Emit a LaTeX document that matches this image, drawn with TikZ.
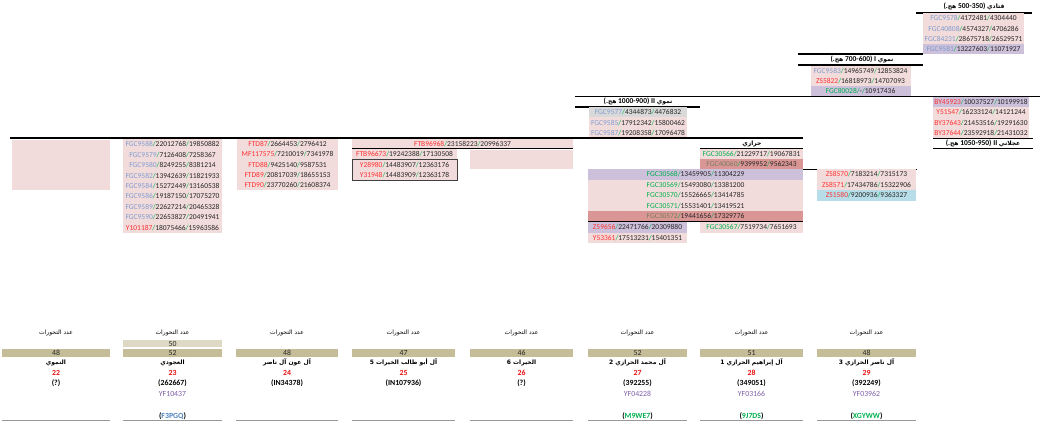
\documentclass[tikz,border=0pt]{standalone}
\usepackage{fontspec}
\setmainfont{Carlito}
\newfontfamily\arfont[Script=Arabic]{DejaVu Sans}
\TeXXeTstate=1
\usetikzlibrary{positioning}

\definecolor{pinkbg}{HTML}{F2DCDB}
\definecolor{purplebg}{HTML}{CCC0DA}
\definecolor{rosybg}{HTML}{DA9694}
\definecolor{bluebg}{HTML}{B7DEE8}
\definecolor{greybg}{HTML}{D9D9D9}
\definecolor{tanbg}{HTML}{C4BD97}
\definecolor{tanlt}{HTML}{DDD9C4}
\definecolor{snpb}{HTML}{7F9BD0}
\definecolor{snpr}{HTML}{FF3030}
\definecolor{snpg}{HTML}{00B050}
\definecolor{snpo}{HTML}{767D5E}
\definecolor{numtxt}{HTML}{262626}
\definecolor{yfpurple}{HTML}{7F5FA8}
\definecolor{codeblue}{HTML}{4F81BD}
\definecolor{redbold}{HTML}{E81010}

\newcommand{\arw}[1]{{\arfont\fontsize{6}{7}\selectfont #1}}
\newcommand{\arr}[1]{\arw{\beginR #1\endR}}
% era title: Arabic name, Latin part, years
\newcommand{\era}[3]{\beginR\arw{#1} #2\beginL#3)\endL{} \arw{هج}\beginL(.\endL\endR}
\newcommand{\gsl}{\textcolor{snpg}{/}}
\newcommand{\snp}[4]{\textcolor{#1}{#2}\gsl#3\gsl#4}
\newcommand{\rowfont}{\fontsize{7.5}{8}\selectfont}
\newcommand{\botfont}{\fontsize{7.8}{9}\selectfont}

\begin{document}
\begin{tikzpicture}[x=1pt,y=-1pt,
  row/.style={minimum width=#1, minimum height=10.5pt, inner sep=0pt,
    font=\rowfont, text=numtxt},
  row/.default=101pt,
  tline/.style={line width=1.1pt},
  title/.style={inner sep=0pt, font=\rowfont\bfseries},
  hdr/.style={inner sep=0pt, font=\botfont},
  cntbox/.style={fill=tanbg, minimum height=8pt, inner sep=0pt,
    font=\botfont, text=numtxt},
  btxt/.style={inner sep=0pt, font=\botfont\bfseries},
  base/.style={line width=0.8pt, draw=gray!80}]

\useasboundingbox (0,0) rectangle (1044,426);

% Qatadi
\node[title] (qt) at (974,6) {\era{قتادي}{}{500-350}};
\draw[tline] (916,13) -- (1032,13);
\node[row, fill=pinkbg] (q1) at (973.5,18.3) {\snp{snpb}{FGC9578}{4172481}{4304440}};
\node[row, fill=pinkbg] (q2) at (973.5,28.6) {\snp{snpb}{FGC40808}{4574327}{4706286}};
\node[row, fill=pinkbg] (q3) at (973.5,38.9) {\snp{snpb}{FGC84231}{28675718}{26529571}};
\node[row, fill=purplebg] (q4) at (973.5,49.2) {\snp{snpb}{FGC9581}{13227603}{11071927}};

% Nmowi I
\draw[tline] (798,54) -- (923,54);
\node[title] (nt) at (862,59.5) {\era{نموي}{I }{700-600}};
\draw[tline] (798,65) -- (923,65);
\node[row=100pt, fill=pinkbg] (n1) at (860.5,70.8) {\snp{snpb}{FGC9583}{14965749}{12853824}};
\node[row=100pt, fill=pinkbg] (n2) at (860.5,81.1) {\snp{snpr}{ZS5822}{16818973}{14707093}};
\node[row=100pt, fill=purplebg] (n3) at (860.5,91.4) {\snp{snpg}{FGC80028}{-}{10917436}};

\draw[tline] (575,96.5) -- (1040,96.5);

% Ajlani II
\node[row=96pt, fill=purplebg] (a1) at (981,102) {\snp{snpr}{BY45923}{10037527}{10199918}};
\node[row=96pt, fill=pinkbg] (a2) at (981,112.3) {\snp{snpr}{Y51547}{16233124}{14121244}};
\node[row=96pt, fill=pinkbg] (a3) at (981,122.6) {\snp{snpr}{BY37643}{21453516}{19291630}};
\node[row=96pt, fill=pinkbg] (a4) at (981,132.9) {\snp{snpr}{BY37644}{23592918}{21431032}};
\draw[tline] (933,138.3) -- (1033,138.3);
\node[title] (at) at (983,143.5) {\era{عجلاني}{II }{1050-950}};
\draw[tline] (933,148.5) -- (1033,148.5);

% Nmowi II
\node[title] (mt) at (638,101.8) {\era{نموي}{II }{1000-900}};
\draw[tline] (575,107) -- (700,107);
\node[row=98pt, fill=greybg] (m1) at (638,112.3) {\snp{snpb}{FGC9577}{4344873}{4476832}};
\node[row=98pt, fill=pinkbg] (m2) at (638,122.6) {\snp{snpb}{FGC9585}{17912342}{15800462}};
\node[row=98pt, fill=pinkbg] (m3) at (638,132.9) {\snp{snpb}{FGC9587}{19208358}{17096478}};

\draw[tline] (10,138) -- (803,138);

% Harazi
\node[title] (ht) at (752,143.5) {\arr{حرازي}};
\draw[tline] (700,148.5) -- (803,148.5);
\node[row=103pt, fill=pinkbg] (h1) at (751.5,154) {\snp{snpg}{FGC30566}{21229717}{19067831}};
\node[row=103pt, fill=rosybg] (h2) at (751.5,164.3) {\snp{snpo}{FGC40060}{9399952}{9562343}};
\draw[tline] (588,169.3) -- (917,169.3);
\node[row=215pt, fill=purplebg] (w1) at (695.5,174.5) {\snp{snpg}{FGC30568}{13459905}{11304229}};
\node[row=215pt, fill=pinkbg] (w2) at (695.5,185) {\snp{snpg}{FGC30569}{15493080}{13381200}};
\node[row=215pt, fill=pinkbg] (w3) at (695.5,195.5) {\snp{snpg}{FGC30570}{15526665}{13414785}};
\node[row=215pt, fill=pinkbg] (w4) at (695.5,206) {\snp{snpg}{FGC30571}{15531401}{13419521}};
\node[row=215pt, fill=rosybg] (w5) at (695.5,216.5) {\snp{snpo}{FGC30572}{19441656}{17329776}};
\draw[tline] (588,221.8) -- (803,221.8);
\node[row=99pt, fill=purplebg] (z1) at (637.5,227.5) {\snp{snpr}{Z59656}{22471766}{20309880}};
\node[row=99pt, fill=pinkbg] (z2) at (637.5,237.8) {\snp{snpr}{Y53361}{17513231}{15401351}};
\node[row=103pt, fill=pinkbg] (h3) at (751.5,227.5) {\snp{snpg}{FGC30567}{7519734}{7651693}};

% ZS block
\node[row=99pt, fill=pinkbg] (s1) at (866.5,174.5) {\snp{snpr}{ZS8570}{7183214}{7315173}};
\node[row=99pt, fill=pinkbg] (s2) at (866.5,185) {\snp{snpr}{ZS8571}{17434786}{15322906}};
\node[row=99pt, fill=bluebg] (s3) at (866.5,195.5) {\snp{snpr}{ZS1580}{9200936}{9363327}};

% Left columns
\fill[pinkbg] (12,140) rectangle (110,190);
\foreach \nm/\ca/\cb [count=\i] in {FGC9588/22012768/19850882, FGC9579/7126408/7258367,
  FGC9580/8249255/8381214, FGC9582/13942639/11821933, FGC9584/15272449/13160538,
  FGC9586/19187150/17075270, FGC9589/22627214/20465328, FGC9590/22653827/20491941}
  \node[row=99pt, fill=pinkbg] (f\i) at (172.5,{133.8+10.45*\i}) {\snp{snpb}{\nm}{\ca}{\cb}};
\node[row=99pt, fill=pinkbg] (f9) at (172.5,227.85) {\snp{snpr}{Y101187}{18075466}{15963586}};

\foreach \nm/\ca/\cb [count=\i] in {FTD87/2664453/2796412, MF117575/7210019/7341978,
  FTD88/9425140/9587531, FTD89/20817039/18655153, FTD90/23770260/21608374}
  \node[row=101pt, fill=pinkbg] (d\i) at (287.5,{133.95+10.25*\i}) {\snp{snpr}{\nm}{\ca}{\cb}};

\node[row=221pt, fill=pinkbg] (t0) at (462.5,144) {\snp{snpr}{FTB96968}{23158223}{20996337}};
\draw[tline] (352,148.6) -- (573,148.6);
\node[row=105pt, fill=pinkbg] (t1) at (404.5,154.2) {\snp{snpr}{FTB96673}{19242388}{17130508}};
\node[row=105pt, fill=pinkbg] (t2) at (404.5,164.6) {\snp{snpr}{Y28980}{14483907}{12363176}};
\node[row=105pt, fill=pinkbg] (t3) at (404.5,174.9) {\snp{snpr}{Y31948}{14483909}{12363178}};
\draw[darkgray, line width=0.6pt] (352,159.4) rectangle (457,180.1);
\fill[pinkbg] (470,149.5) rectangle (573,168.5);

% Bottom
\node[cntbox, fill=tanlt, minimum width=99pt, minimum height=7.5pt] (c2b) at (172.5,343.7) {50};
\foreach \xl/\xr/\cnt/\nm/\idx/\code [count=\i] in {
  2/110/48/{النموي}/22/(?),
  123/222/52/{العجودي}/23/(262667),
  236/338/48/{آل عون آل ناصر}/24/(IN34378),
  352/455/47/{آل أبو طالب الخيرات 5}/25/(IN107936),
  470/573/46/{الخيرات 6}/26/(?),
  588/687/52/{آل محمد الحرازي 2}/27/(392255),
  700/803/51/{آل إبراهيم الحرازي 1}/28/(349051),
  817/916/48/{آل ناصر الحرازي 3}/29/(392249)}
{
  \pgfmathsetmacro\cx{(\xl+\xr)/2}
  \pgfmathsetmacro\w{\xr-\xl}
  \node[hdr] (hd\i) at (\cx,332.7) {\arr{عدد التحورات}};
  \node[cntbox, minimum width=\w*1pt] (c\i) at (\cx,353.3) {\cnt};
  \node[btxt] (nm\i) at (\cx,362.7) {\arr{\nm}};
  \node[btxt, text=redbold] (ix\i) at (\cx,372.8) {\idx};
  \node[btxt] (cd\i) at (\cx,383.3) {\code};
  \draw[base] (\xl,420) -- (\xr,420);
}
\node[hdr, text=yfpurple] (yf2) at (172.5,394) {YF10437};
\node[hdr, text=yfpurple] (yf6) at (637.5,394) {YF04228};
\node[hdr, text=yfpurple] (yf7) at (751.5,394) {YF03166};
\node[hdr, text=yfpurple] (yf8) at (866.5,394) {YF03962};
\node[btxt] (hg2) at (172.5,416.5) {(\textcolor{codeblue}{F3PGQ})};
\node[btxt] (hg6) at (637.5,416.5) {(\textcolor{snpg}{M9WE7})};
\node[btxt] (hg7) at (751.5,416.5) {(\textcolor{snpg}{9J7DS})};
\node[btxt] (hg8) at (866.5,416.5) {(\textcolor{snpg}{XGYWW})};

\end{tikzpicture}
\end{document}
